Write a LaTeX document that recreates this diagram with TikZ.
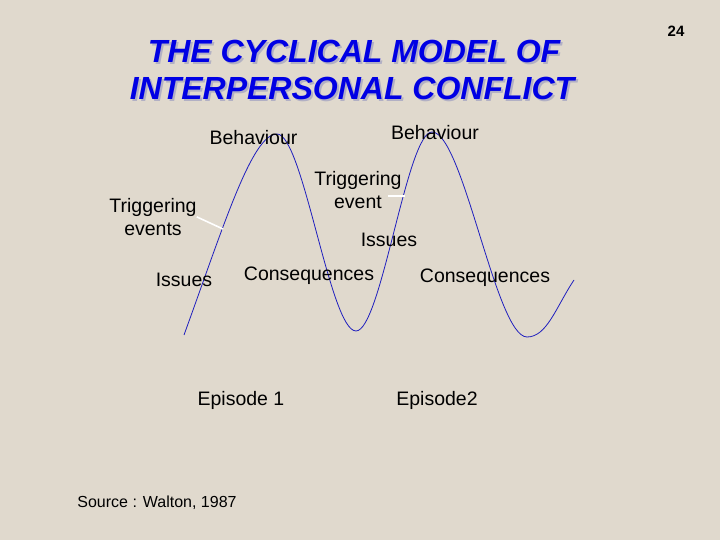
\documentclass[tikz,border=0pt]{standalone}
\usepackage{fontspec}
\setmainfont{Liberation Sans}
\definecolor{paper}{RGB}{224,217,205}
\definecolor{titleblue}{RGB}{0,0,228}
\definecolor{shadowgrey}{RGB}{178,176,196}
\definecolor{waveblue}{RGB}{30,30,190}
\newcommand{\shadowed}[1]{\makebox[0pt][l]{\kern2pt\raisebox{-2pt}{\textcolor{shadowgrey}{#1}}}#1}
\begin{document}
\begin{tikzpicture}
    [x=1pt,y=1pt,
    txt/.style={inner sep=0pt,font=\fontsize{19.5}{23}\selectfont,align=center},
    heading/.style={inner sep=0pt,text=titleblue,font=\fontsize{32}{36}\selectfont\bfseries\itshape},
    wave/.style={draw=waveblue,line width=0.8pt},
    link/.style={draw=white,line width=1.6pt}]
    %background
    \fill[paper] (0,0) rectangle (720,540);
    \useasboundingbox (0,0) rectangle (720,540);
    %title
    \node[heading,anchor=base] (title1) at (354,477) {\shadowed{THE CYCLICAL MODEL OF}};
    \node[heading,anchor=base] (title2) at (352,440) {\shadowed{INTERPERSONAL CONFLICT}};
    \node[inner sep=0pt,font=\fontsize{15}{18}\selectfont\bfseries,anchor=base] (page) at (676,503) {24};
    %points of the wave
    \coordinate (w0) at (184,205);
    \coordinate (w1) at (277,406);
    \coordinate (w2) at (356,209);
    \coordinate (w3) at (432,408);
    \coordinate (w4) at (527,203);
    \coordinate (w5) at (574,260);
    %wave
    \draw[wave] (w0) .. controls (224,315) and (252,406) .. (w1)
        .. controls (303,406) and (330,209) .. (w2)
        .. controls (381,209) and (407,408) .. (w3)
        .. controls (463,408) and (496,203) .. (w4)
        .. controls (547,203) and (556,233) .. (w5);
    %labels
    \node[txt,anchor=base] (behav1) at (253.5,395) {Behaviour};
    \node[txt,anchor=base] (behav2) at (435,400) {Behaviour};
    \node[txt,anchor=north] (trigA) at (153,342) {Triggering\\events};
    \node[txt,anchor=north] (trigB) at (358,369) {Triggering\\event};
    \node[txt,anchor=base] (issues1) at (184,253) {Issues};
    \node[txt,anchor=base] (issues2) at (389,293) {Issues};
    \node[txt,anchor=base] (conseq1) at (309,259) {Consequences};
    \node[txt,anchor=base] (conseq2) at (485,257) {Consequences};
    \node[txt,anchor=base] (ep1) at (241,134) {Episode 1};
    \node[txt,anchor=base] (ep2) at (437,134) {Episode2};
    \node[inner sep=0pt,font=\fontsize{16}{19}\selectfont,anchor=base] (source) at (157,32) {Source : Walton, 1987};
    %pointers to the wave
    \coordinate (trigA tip) at (223,311);
    \coordinate (trigB tip) at (405,344);
    \draw[link] (trigA.east) -- (trigA tip);
    \draw[link] ([xshift=-17pt]trigB tip) -- (trigB tip);
\end{tikzpicture}
\end{document}
